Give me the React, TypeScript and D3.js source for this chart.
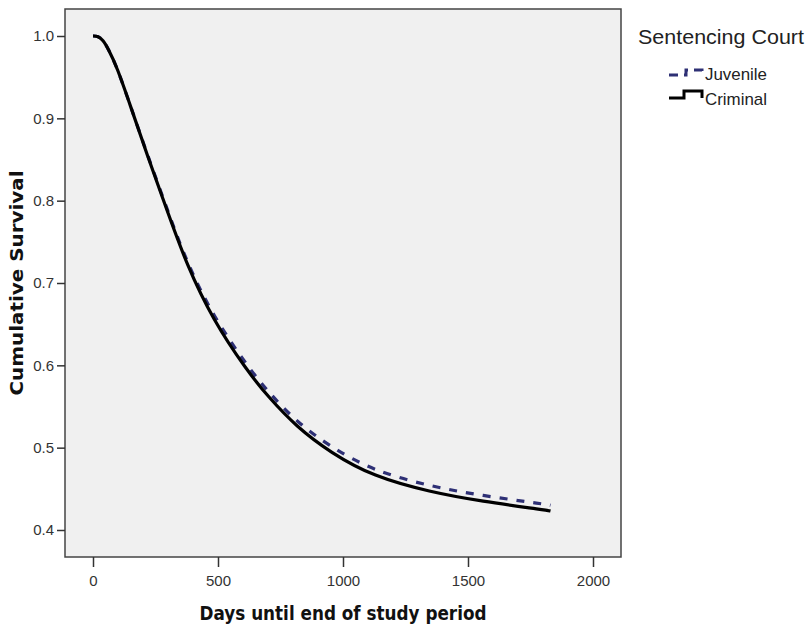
import React, { useRef, useEffect } from 'react';
import * as d3 from 'd3';

// survival curve (days until end of study period)
const days = [0, 20, 40, 60, 95, 150, 215, 300, 375, 480, 615, 700, 815, 950, 1120, 1350, 1550, 1815, 1830];
const criminal = [1.0, 1.0, 0.995, 0.985, 0.963, 0.915, 0.857, 0.785, 0.722, 0.655, 0.594, 0.562, 0.525, 0.494, 0.465, 0.446, 0.435, 0.424, 0.423];
const juvenile = [1.0, 1.0, 0.995, 0.985, 0.963, 0.915, 0.858, 0.787, 0.725, 0.66, 0.6, 0.568, 0.531, 0.501, 0.472, 0.453, 0.442, 0.431, 0.43];

const xTicks = [0, 500, 1000, 1500, 2000];
const yTicks = [0.4, 0.5, 0.6, 0.7, 0.8, 0.9, 1.0];
const legendLabels = ['Juvenile', 'Criminal'];

function App() {
  const svgRef = useRef<SVGSVGElement>(null);

  useEffect(() => {
    const svg = d3.select(svgRef.current);
    svg.selectAll('*').remove();

    const plot = { left: 65, top: 9, right: 621, bottom: 557 };

    const x = d3.scaleLinear().domain([-112, 2112]).range([plot.left, plot.right]);
    const y = d3.scaleLinear().domain([0.3672, 1.0328]).range([plot.bottom, plot.top]);

    svg
      .append('rect')
      .attr('x', plot.left)
      .attr('y', plot.top)
      .attr('width', plot.right - plot.left)
      .attr('height', plot.bottom - plot.top)
      .attr('fill', '#f0f0f0')
      .attr('stroke', '#444')
      .attr('stroke-width', 1.5);

    // axes
    const xAxis = svg
      .append('g')
      .attr('transform', `translate(0, ${plot.bottom})`)
      .call(d3.axisBottom(x).tickValues(xTicks).tickSize(10).tickSizeOuter(0).tickFormat(d3.format('d')));
    const yAxis = svg
      .append('g')
      .attr('transform', `translate(${plot.left}, 0)`)
      .call(d3.axisLeft(y).tickValues(yTicks).tickSize(8).tickSizeOuter(0).tickFormat(d3.format('.1f')));

    [xAxis, yAxis].forEach((g) => {
      g.select('.domain').remove();
      g.selectAll('line').attr('stroke', '#333').attr('stroke-width', 1.5);
      g.selectAll('text')
        .attr('fill', '#333')
        .style('font-family', '"Liberation Sans", Arial, sans-serif')
        .style('font-size', '15px');
    });
    xAxis.selectAll('text').attr('dy', '1.05em');
    yAxis.selectAll('text').attr('x', -11);

    const line = (vals: number[]) =>
      d3
        .line<number>()
        .x((_, i) => x(days[i]))
        .y((d) => y(d))
        .curve(d3.curveBasis)(vals);

    svg
      .append('path')
      .attr('d', line(juvenile))
      .attr('fill', 'none')
      .attr('stroke', '#2e3075')
      .attr('stroke-width', 3.2)
      .attr('stroke-dasharray', '8,9');

    svg
      .append('path')
      .attr('d', line(criminal))
      .attr('fill', 'none')
      .attr('stroke', '#000')
      .attr('stroke-width', 3.2);

    // axis titles
    svg
      .append('text')
      .attr('x', (plot.left + plot.right) / 2)
      .attr('y', 620)
      .attr('text-anchor', 'middle')
      .attr('textLength', 287)
      .attr('lengthAdjust', 'spacingAndGlyphs')
      .style('font-family', '"DejaVu Sans", Verdana, sans-serif')
      .style('font-weight', 'bold')
      .style('font-size', '19px')
      .attr('fill', '#111')
      .text('Days until end of study period');

    svg
      .append('text')
      .attr('transform', `translate(23, ${(plot.top + plot.bottom) / 2}) rotate(-90)`)
      .attr('text-anchor', 'middle')
      .attr('textLength', 225)
      .attr('lengthAdjust', 'spacingAndGlyphs')
      .style('font-family', '"DejaVu Sans", Verdana, sans-serif')
      .style('font-weight', 'bold')
      .style('font-size', '17px')
      .attr('fill', '#111')
      .text('Cumulative Survival');

    // legend
    const legend = svg.append('g');
    legend
      .append('text')
      .attr('x', 638)
      .attr('y', 44)
      .attr('textLength', 166)
      .attr('lengthAdjust', 'spacingAndGlyphs')
      .style('font-family', '"Liberation Sans", Arial, sans-serif')
      .style('font-size', '21px')
      .attr('fill', '#222')
      .text('Sentencing Court');

    legend
      .append('path')
      .attr('d', 'M669,75H686V70H702V76')
      .attr('fill', 'none')
      .attr('stroke', '#2e3075')
      .attr('stroke-width', 3)
      .attr('stroke-dasharray', '9,6');
    legend
      .append('path')
      .attr('d', 'M669,98H684V91H702V98')
      .attr('fill', 'none')
      .attr('stroke', '#000')
      .attr('stroke-width', 3);

    legend
      .selectAll('text.item')
      .data(legendLabels)
      .enter()
      .append('text')
      .attr('class', 'item')
      .attr('x', 705)
      .attr('y', (_, i) => 80 + i * 25)
      .attr('textLength', 62)
      .attr('lengthAdjust', 'spacingAndGlyphs')
      .style('font-family', '"Liberation Sans", Arial, sans-serif')
      .style('font-size', '17px')
      .attr('fill', '#222')
      .text((d) => d);
  }, []);

  return <svg ref={svgRef} width={809} height={629} style={{ position: 'absolute', left: 0, top: 0 }} />;
}

export default App;
